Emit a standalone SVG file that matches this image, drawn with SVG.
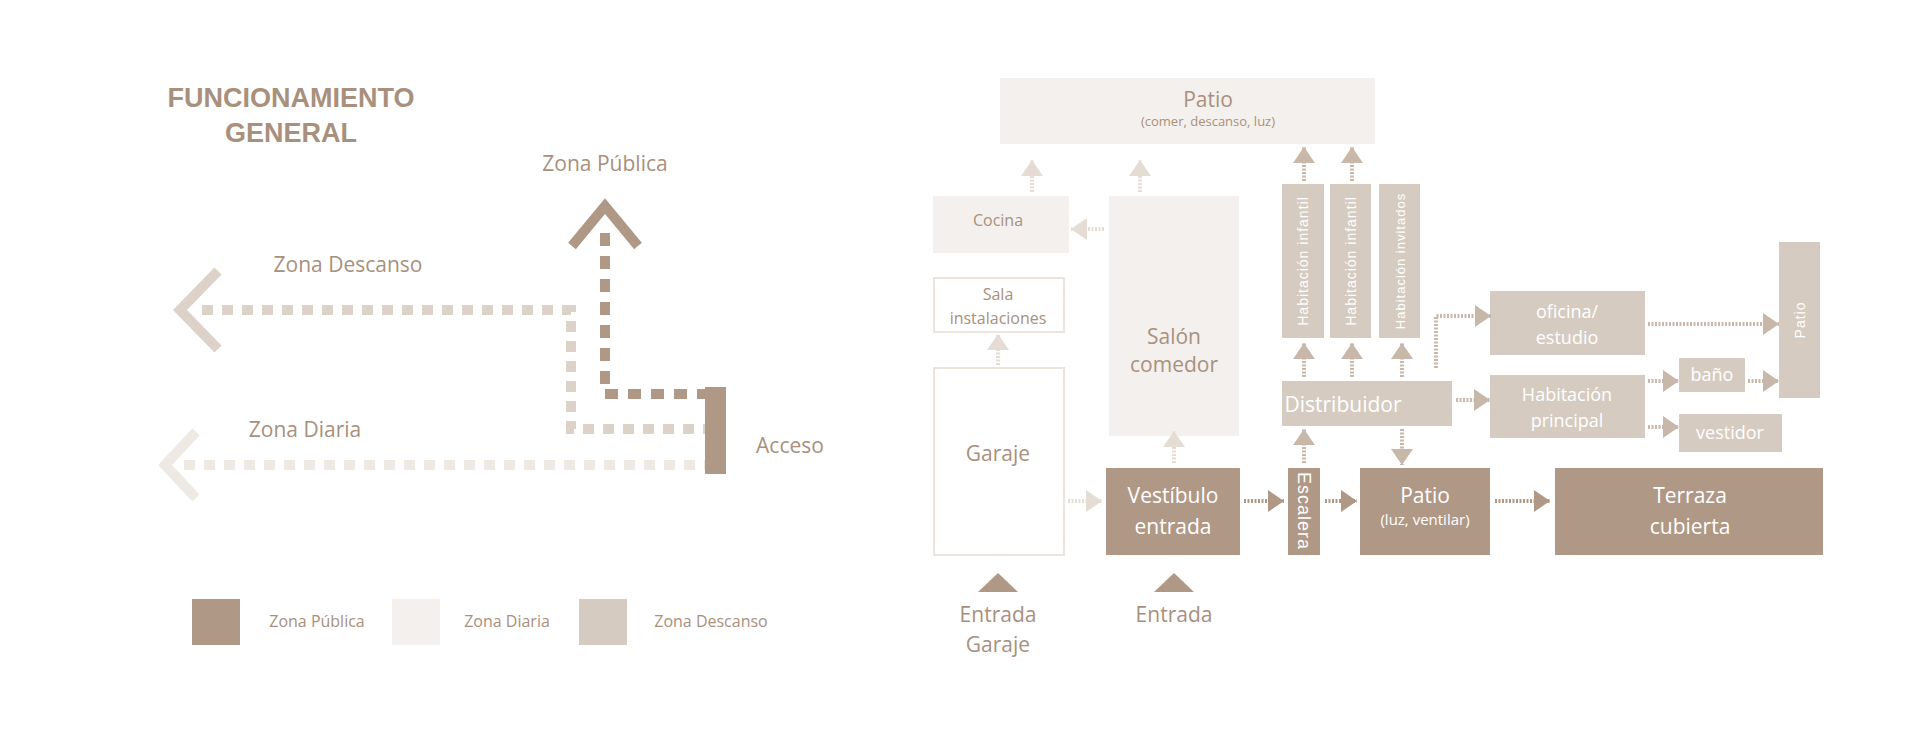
<svg xmlns="http://www.w3.org/2000/svg" width="1920" height="732" viewBox="0 0 1920 732">
<style>
text{font-family:"Open Sans","Liberation Sans",sans-serif;text-anchor:middle;fill:#a8907d}
.w{fill:#fff}
.dark{fill:#b09886}.desc{fill:#d6cbc1}.dia{fill:#f4f0ed}.out{fill:#fff;stroke:#ebe4de;stroke-width:2}
.t{font-size:21px}.s{font-size:16px}.xs{font-size:13px}
.v{font-family:"Liberation Sans",sans-serif;font-size:14px;letter-spacing:1px}
.ad{stroke:#b09886;stroke-width:4;stroke-dasharray:2 1.5;fill:none}
.al{stroke:#e5dcd4;stroke-width:4;stroke-dasharray:2 1.5;fill:none}
.am{stroke:#c8b8aa;stroke-width:4;stroke-dasharray:2 1.5;fill:none}
</style>
<defs>
<marker id="md" markerUnits="userSpaceOnUse" markerWidth="16" markerHeight="22" refX="16" refY="11" orient="auto"><path d="M0,0L16,11L0,22z" fill="#b09886"/></marker>
<marker id="ml" markerUnits="userSpaceOnUse" markerWidth="16" markerHeight="22" refX="16" refY="11" orient="auto"><path d="M0,0L16,11L0,22z" fill="#e5dcd4"/></marker>
<marker id="mm" markerUnits="userSpaceOnUse" markerWidth="16" markerHeight="22" refX="16" refY="11" orient="auto"><path d="M0,0L16,11L0,22z" fill="#c8b8aa"/></marker>
</defs>
<!-- left schematic -->
<g id="title"><text x="291" y="107" style="font-family:'Liberation Sans',sans-serif;font-weight:bold;font-size:27px">FUNCIONAMIENTO</text><text x="291" y="142" style="font-family:'Liberation Sans',sans-serif;font-weight:bold;font-size:27px">GENERAL</text></g>
<g id="flows" fill="none">
<path d="M202,310H571V429H707" stroke="#ddd2c8" stroke-width="10" stroke-dasharray="11 9"/>
<path d="M184,465H707" stroke="#efe9e4" stroke-width="10" stroke-dasharray="11 9"/>
<path d="M605,233V394H707" stroke="#b09886" stroke-width="10" stroke-dasharray="13 10"/>
<path d="M572,246L605,206L638,246" stroke="#b09886" stroke-width="10"/>
<path d="M218,271L180,310L218,349" stroke="#ddd2c8" stroke-width="10"/>
<path d="M196,432L165,465L196,498" stroke="#efe9e4" stroke-width="10"/>
</g>
<g id="acceso"><rect x="705" y="387" width="21" height="87" class="dark"/><text x="790" y="453" class="t" style="text-anchor:middle">Acceso</text></g>
<g id="lbls"><text x="605" y="171" class="t">Zona Pública</text><text x="348" y="272" class="t">Zona Descanso</text><text x="305" y="437" class="t">Zona Diaria</text></g>
<g id="legend">
<rect x="192" y="599" width="48" height="46" class="dark"/><text x="317" y="627" class="s">Zona Pública</text>
<rect x="392" y="599" width="48" height="46" class="dia"/><text x="507" y="627" class="s">Zona Diaria</text>
<rect x="579" y="599" width="48" height="46" class="desc"/><text x="711" y="627" class="s">Zona Descanso</text>
</g>
<!-- right diagram -->
<g id="patio-top"><rect x="1000" y="78" width="375" height="66" class="dia"/><text x="1208" y="107" class="t">Patio</text><text x="1208" y="126" class="xs">(comer, descanso, luz)</text></g>
<g id="cocina"><rect x="933" y="196" width="136" height="57" class="dia"/><text x="998" y="226" class="s">Cocina</text></g>
<g id="salon"><rect x="1109" y="196" width="130" height="240" class="dia"/><text x="1174" y="344" class="t">Salón</text><text x="1174" y="372" class="t">comedor</text></g>
<g id="sala"><rect x="934" y="278" width="130" height="54" class="out"/><text x="998" y="300" class="s">Sala</text><text x="998" y="324" class="s">instalaciones</text></g>
<g id="garaje"><rect x="934" y="368" width="130" height="187" class="out"/><text x="998" y="461" class="t">Garaje</text></g>
<g id="vestibulo"><rect x="1106" y="468" width="134" height="87" class="dark"/><text x="1173" y="503" class="t w">Vestíbulo</text><text x="1173" y="534" class="t w">entrada</text></g>
<g id="escalera"><rect x="1288" y="468" width="32" height="87" class="dark"/><text transform="translate(1304,511) rotate(90)" y="6" class="v w" style="font-size:18px">Escalera</text></g>
<g id="patio-luz"><rect x="1360" y="468" width="130" height="87" class="dark"/><text x="1425" y="503" class="t w">Patio</text><text x="1425" y="525" class="xs w" style="font-size:15px">(luz, ventilar)</text></g>
<g id="terraza"><rect x="1555" y="468" width="268" height="87" class="dark"/><text x="1690" y="503" class="t w">Terraza</text><text x="1690" y="534" class="t w">cubierta</text></g>
<g id="distribuidor"><rect x="1282" y="381" width="170" height="45" class="desc"/><text x="1343" y="412" class="t w">Distribuidor</text></g>
<g id="hab1"><rect x="1282" y="184" width="42" height="154" class="desc"/><text transform="translate(1303,261) rotate(-90)" y="5" class="v w">Habitación infantil</text></g>
<g id="hab2"><rect x="1330" y="184" width="41" height="154" class="desc"/><text transform="translate(1351,261) rotate(-90)" y="5" class="v w">Habitación infantil</text></g>
<g id="hab3"><rect x="1379" y="184" width="41" height="154" class="desc"/><text transform="translate(1400,261) rotate(-90)" y="5" class="v w" style="font-size:13px">Habitación invitados</text></g>
<g id="oficina"><rect x="1490" y="291" width="155" height="64" class="desc"/><text x="1567" y="318" class="s w" style="font-size:18px">oficina/</text><text x="1567" y="344" class="s w" style="font-size:18px">estudio</text></g>
<g id="patio-der"><rect x="1779" y="242" width="41" height="156" class="desc"/><text transform="translate(1800,320) rotate(-90)" y="5" class="v w">Patio</text></g>
<g id="hab-principal"><rect x="1490" y="375" width="155" height="63" class="desc"/><text x="1567" y="401" class="s w" style="font-size:18px">Habitación</text><text x="1567" y="427" class="s w" style="font-size:18px">principal</text></g>
<g id="bano"><rect x="1679" y="358" width="66" height="34" class="desc"/><text x="1712" y="381" class="s w" style="font-size:18px">baño</text></g>
<g id="vestidor"><rect x="1679" y="414" width="103" height="38" class="desc"/><text x="1730" y="439" class="s w" style="font-size:18px">vestidor</text></g>
<g id="entradas">
<path d="M978,592L998,573L1018,592z" fill="#b09886"/><text x="998" y="622" class="t">Entrada</text><text x="998" y="652" class="t">Garaje</text>
<path d="M1154,592L1174,573L1194,592z" fill="#b09886"/><text x="1174" y="622" class="t">Entrada</text>
</g>
<g id="connectors">
<path d="M1032,192V160" class="al" marker-end="url(#ml)"/>
<path d="M1140,192V160" class="al" marker-end="url(#ml)"/>
<path d="M1104,229H1071" class="al" marker-end="url(#ml)"/>
<path d="M998,365V334" class="al" marker-end="url(#ml)"/>
<path d="M1068,501H1102" class="al" marker-end="url(#ml)"/>
<path d="M1174,463V431" class="al" marker-end="url(#ml)"/>
<path d="M1244,501H1284" class="ad" marker-end="url(#md)"/>
<path d="M1325,501H1357" class="ad" marker-end="url(#md)"/>
<path d="M1495,501H1550" class="ad" marker-end="url(#md)"/>
<path d="M1304,463V429" class="am" marker-end="url(#mm)"/>
<path d="M1402,429V465" class="am" marker-end="url(#mm)"/>
<path d="M1304,377V343" class="am" marker-end="url(#mm)"/>
<path d="M1352,377V343" class="am" marker-end="url(#mm)"/>
<path d="M1402,377V343" class="am" marker-end="url(#mm)"/>
<path d="M1304,181V147" class="am" marker-end="url(#mm)"/>
<path d="M1352,181V147" class="am" marker-end="url(#mm)"/>
<path d="M1436,368V316H1491" class="am" marker-end="url(#mm)"/>
<path d="M1648,324H1779" class="am" marker-end="url(#mm)"/>
<path d="M1456,400H1490" class="am" marker-end="url(#mm)"/>
<path d="M1648,381H1679" class="am" marker-end="url(#mm)"/>
<path d="M1748,381H1779" class="am" marker-end="url(#mm)"/>
<path d="M1648,427H1679" class="am" marker-end="url(#mm)"/>
</g>
</svg>
